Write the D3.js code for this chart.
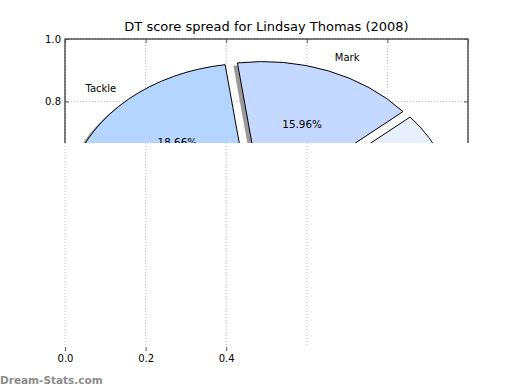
<!DOCTYPE html>
<html>
<head>
<meta charset="utf-8">
<script src="https://cdn.jsdelivr.net/npm/d3@7"></script>
<style>
body { margin: 0; background: #fff; }
text { font-family: "DejaVu Sans", sans-serif; }
</style>
</head>
<body>
<div id="chart"></div>
<script>
// DATA
var sliceLabels = ["Handball", "Mark", "Tackle", "Kick", "Goal", "Behind"];
var slicePct = [11.25, 15.96, 18.66, 28.5, 19.5, 6.13];
var sliceColors = ["#e8f0fe", "#c5d8ff", "#b3d5ff", "#d6e4ff", "#a6c8f5", "#f2f6ff"];
var xTicks = [0, 0.2, 0.4, 0.6, 0.8, 1.0];
var yTicks = [0, 0.2, 0.4, 0.6, 0.8, 1.0];
// the reference image is only partly drawn below the top band
var xGridLower = [0, 0.2, 0.4, 0.6];
var xLabelsLower = [0, 0.2, 0.4];

//SETUP
var width = 520, height = 390;
var margin = {top: 39, right: 52, bottom: 39, left: 65};
var cutY = 143;

var pieCx = 0.4805, pieCy = 0.4426, pieR = 0.457, explode = 0.03;
var shadowDx = -0.01, shadowDy = -0.009;

var svg = d3.select('#chart').append('svg')
	.attr('width', width)
	.attr('height', height);

var x = d3.scaleLinear().domain([0, 1]).range([margin.left, width - margin.right]);
var y = d3.scaleLinear().domain([0, 1]).range([height - margin.bottom, margin.top]);
var sx = x(1) - x(0), sy = y(0) - y(1);

svg.append('defs').append('clipPath')
	.attr('id', 'band')
	.append('rect')
	.attr('x', 0).attr('y', 0)
	.attr('width', width).attr('height', cutY);

var band = svg.append('g').attr('clip-path', 'url(#band)');

//TITLE
svg.append('text')
	.attr('x', (x(0) + x(1)) / 2)
	.attr('y', 30.5)
	.attr('text-anchor', 'middle')
	.attr('font-size', '13px')
	.text('DT score spread for Lindsay Thomas (2008)');

//GRID
band.selectAll('.vgrid')
	.data(xTicks)
	.enter().append('line')
	.attr('x1', d => x(d)).attr('x2', d => x(d))
	.attr('y1', y(1)).attr('y2', y(0))
	.attr('stroke', '#bbb')
	.attr('stroke-dasharray', '1,2');
band.selectAll('.hgrid')
	.data(yTicks)
	.enter().append('line')
	.attr('y1', d => y(d)).attr('y2', d => y(d))
	.attr('x1', x(0)).attr('x2', x(1))
	.attr('stroke', '#bbb')
	.attr('stroke-dasharray', '1,2');

//PIE
var pie = d3.pie().sort(null).value(d => d)
	.startAngle(Math.PI / 2)
	.endAngle(Math.PI / 2 - 2 * Math.PI);
var arcs = pie(slicePct);
var arc = d3.arc().innerRadius(0).outerRadius(pieR * sy);

arcs.forEach(function (d, i) {
	d.mid = Math.PI / 2 - (d.startAngle + d.endAngle) / 2;
	d.cx = pieCx + explode * Math.cos(d.mid);
	d.cy = pieCy + explode * Math.sin(d.mid);
	d.label = sliceLabels[i];
	d.color = sliceColors[i];
});

function place(cx, cy) {
	return 'translate(' + x(cx) + ',' + y(cy) + ') scale(' + (sx / sy) + ',1)';
}

band.selectAll('.shadow')
	.data(arcs)
	.enter().append('path')
	.attr('d', arc)
	.attr('transform', d => place(d.cx + shadowDx, d.cy + shadowDy))
	.attr('fill', '#9a9a9a');

band.selectAll('.wedge')
	.data(arcs)
	.enter().append('path')
	.attr('d', arc)
	.attr('transform', d => place(d.cx, d.cy))
	.attr('fill', d => d.color)
	.attr('stroke', '#000')
	.attr('stroke-width', 1)
	.attr('vector-effect', 'non-scaling-stroke');

band.selectAll('.slabel')
	.data(arcs)
	.enter().append('text')
	.attr('x', d => x(d.cx + 1.1 * pieR * Math.cos(d.mid)))
	.attr('y', d => y(d.cy + 1.1 * pieR * Math.sin(d.mid)))
	.attr('dy', '0.36em')
	.attr('text-anchor', d => Math.cos(d.mid) > 0 ? 'start' : 'end')
	.attr('font-size', '10px')
	.text(d => d.label);

band.selectAll('.pct')
	.data(arcs)
	.enter().append('text')
	.attr('x', d => x(d.cx + 0.6 * pieR * Math.cos(d.mid)))
	.attr('y', d => y(d.cy + 0.6 * pieR * Math.sin(d.mid)))
	.attr('dy', '0.36em')
	.attr('text-anchor', 'middle')
	.attr('font-size', '10.4px')
	.text(d => d.value.toFixed(2) + '%');

//FRAME AND AXES
band.append('rect')
	.attr('x', x(0)).attr('y', y(1))
	.attr('width', sx).attr('height', sy)
	.attr('fill', 'none')
	.attr('stroke', '#000');

function tidy(g, labels) {
	g.select('.domain').remove();
	g.selectAll('.tick line').attr('stroke', '#555');
	g.selectAll('.tick text').attr('font-size', '10px').attr('font-family', 'DejaVu Sans').attr('fill', '#000');
	if (!labels) g.selectAll('.tick text').remove();
}

band.append('g')
	.attr('transform', 'translate(' + x(0) + ',0)')
	.call(d3.axisLeft(y).tickValues(yTicks).tickFormat(d3.format('.1f')).tickSizeInner(-4).tickSizeOuter(0).tickPadding(4))
	.call(g => tidy(g, true));
band.append('g')
	.attr('transform', 'translate(' + x(1) + ',0)')
	.call(d3.axisRight(y).tickValues(yTicks).tickSizeInner(-4).tickSizeOuter(0))
	.call(g => tidy(g, false));
band.append('g')
	.attr('transform', 'translate(0,' + y(1) + ')')
	.call(d3.axisTop(x).tickValues(xTicks).tickSizeInner(-4).tickSizeOuter(0))
	.call(g => tidy(g, false));

//LOWER PART (only partly drawn in the reference)
svg.selectAll('.lgrid')
	.data(xGridLower)
	.enter().append('line')
	.attr('x1', d => x(d)).attr('x2', d => x(d))
	.attr('y1', cutY).attr('y2', y(0) - 4)
	.attr('stroke', '#bbb')
	.attr('stroke-dasharray', '1,2');

svg.append('g')
	.attr('transform', 'translate(0,' + y(0) + ')')
	.call(d3.axisBottom(x).tickValues(xLabelsLower).tickFormat(d3.format('.1f')).tickSizeInner(-4).tickSizeOuter(0).tickPadding(4))
	.call(g => tidy(g, true));

//WATERMARK
svg.append('text')
	.attr('x', 0)
	.attr('y', 383.5)
	.attr('font-size', '10.5px')
	.attr('font-weight', 'bold')
	.attr('fill', '#8c8c8c')
	.text('Dream-Stats.com');
</script>
</body>
</html>
